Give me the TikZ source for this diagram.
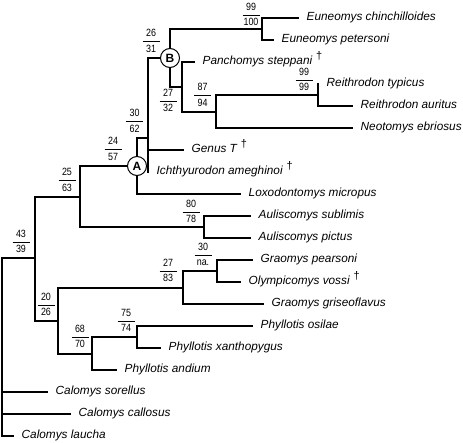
\documentclass[tikz,border=0pt]{standalone}
\usepackage{fontspec}
\setmainfont{Liberation Sans}
\newfontfamily\numfont[FakeStretch=0.85]{Liberation Sans}
\usetikzlibrary{calc}
\tikzset{
  branch/.style={line width=2pt,line cap=rect},
  taxon/.style={anchor=west,inner xsep=8.5pt,inner ysep=0pt,text height=8pt,text depth=2.5pt,
    font=\fontsize{11.8}{13}\selectfont\itshape},
  bnum/.style={anchor=base,inner sep=0pt,font=\fontsize{10.5}{11}\numfont},
  bbar/.style={line width=0.8pt},
  cnode/.style={circle,draw,line width=1pt,fill=white,minimum size=19pt,inner sep=0pt,
    font=\fontsize{12}{12}\selectfont\bfseries},
}
% support values: upper / lower, bar placed relative to the node
\newcommand{\bsup}[4][-13.5,-16.5]{%
  \coordinate (#2s) at ($(#2)+(#1)$);
  \draw[bbar] ($(#2s)+(-8.5,0)$) -- ($(#2s)+(8.5,0)$);
  \node[bnum] (#2t) at ($(#2s)+(0,-5)$) {#3};
  \node[bnum] (#2b) at ($(#2s)+(0,10.5)$) {#4};}
\newcommand{\ext}{\hspace{4pt}\raisebox{0.45em}{\upshape\fontsize{11}{11}\selectfont\textdagger}}
\begin{document}
\begin{tikzpicture}[x=1pt,y=-1pt]
  \useasboundingbox (0,0) rectangle (463,442);
  % ---- internal nodes ----
  \coordinate (n0) at (2,258);
  \coordinate (n43) at (35,258);
  \coordinate (n25) at (80,197);
  \coordinate (jA) at (137,166);
  \coordinate (n30) at (148,138);
  \coordinate (jB) at (170,58);
  \coordinate (nEu) at (262,29);
  \coordinate (n27) at (182,87);
  \coordinate (n87) at (216,112);
  \coordinate (n99) at (318,95);
  \coordinate (nAu) at (204,227);
  \coordinate (n20) at (58,321);
  \coordinate (n27g) at (183,288);
  \coordinate (n30g) at (217,271);
  \coordinate (n68) at (92,354);
  \coordinate (n75) at (137,337);
  % ---- taxa ----
  \node[taxon] (t0) at (298,18) {Euneomys chinchilloides};
  \node[taxon] (t1) at (273,40) {Euneomys petersoni};
  \node[taxon] (t2) at (194,62) {Panchomys steppani\ext};
  \node[taxon] (t3) at (318,84) {Reithrodon typicus};
  \node[taxon] (t4) at (352,106) {Reithrodon auritus};
  \node[taxon] (t5) at (352,128) {Neotomys ebriosus};
  \node[taxon] (t6) at (183,150) {Genus T\ext};
  \node[taxon] (t7) at (148,172) {Ichthyurodon ameghinoi\ext};
  \node[taxon] (t8) at (240,194) {Loxodontomys micropus};
  \node[taxon] (t9) at (250,216) {Auliscomys sublimis};
  \node[taxon] (t10) at (250,238) {Auliscomys pictus};
  \node[taxon] (t11) at (252,260) {Graomys pearsoni};
  \node[taxon] (t12) at (240,282) {Olympicomys vossi\ext};
  \node[taxon] (t13) at (263,304) {Graomys griseoflavus};
  \node[taxon] (t14) at (252,326) {Phyllotis osilae};
  \node[taxon] (t15) at (160,348) {Phyllotis xanthopygus};
  \node[taxon] (t16) at (116,370) {Phyllotis andium};
  \node[taxon] (t17) at (47,392) {Calomys sorellus};
  \node[taxon] (t18) at (70,414) {Calomys callosus};
  \node[taxon] (t19) at (13,436) {Calomys laucha};
  % ---- branches ----
  \draw[branch] (n0) -- (n43);
  \draw[branch] (n0) |- (t17.west);
  \draw[branch] (n0) |- (t18.west);
  \draw[branch] (n0) |- (t19.west);
  \draw[branch] (n43) |- (n25);
  \draw[branch] (n43) |- (n20);
  \draw[branch] (n25) |- (jA);
  \draw[branch] (n25) |- (nAu);
  \draw[branch] (jA) |- (n30);
  \draw[branch] (jA) |- (t8.west);
  \draw[branch] (n30) |- (jB);
  \draw[branch] (n30) |- (t6.west);
  \draw[branch] (n30) |- (t7.west);
  \draw[branch] (jB) |- (nEu);
  \draw[branch] (jB) |- (n27);
  \draw[branch] (nEu) |- (t0.west);
  \draw[branch] (nEu) |- (t1.west);
  \draw[branch] (n27) |- (t2.west);
  \draw[branch] (n27) |- (n87);
  \draw[branch] (n87) |- (n99);
  \draw[branch] (n87) |- (t5.west);
  \draw[branch] (n99) |- (t3.west);
  \draw[branch] (n99) |- (t4.west);
  \draw[branch] (nAu) |- (t9.west);
  \draw[branch] (nAu) |- (t10.west);
  \draw[branch] (n20) |- (n27g);
  \draw[branch] (n20) |- (n68);
  \draw[branch] (n27g) |- (n30g);
  \draw[branch] (n27g) |- (t13.west);
  \draw[branch] (n30g) |- (t11.west);
  \draw[branch] (n30g) |- (t12.west);
  \draw[branch] (n68) |- (n75);
  \draw[branch] (n68) |- (t16.west);
  \draw[branch] (n75) |- (t14.west);
  \draw[branch] (n75) |- (t15.west);
  % ---- labelled nodes ----
  \node[cnode] (cA) at (jA) {A};
  \node[cnode] (cB) at (jB) {B};
  % ---- support values ----
  \bsup[-14,-16]{n43}{43}{39}
  \bsup[-13,-16.5]{n25}{25}{63}
  \bsup[-24,-16.5]{jA}{24}{57}
  \bsup{n30}{30}{62}
  \bsup[-19,-16.5]{jB}{26}{31}
  \bsup[-11,-14]{nEu}{99}{100}
  \bsup[-14,14]{n27}{27}{32}
  \bsup{n87}{87}{94}
  \bsup[-14,-15]{n99}{99}{99}
  \bsup[-13,-15]{nAu}{80}{78}
  \bsup[-12,-16]{n20}{20}{26}
  \bsup[-15,-17]{n27g}{27}{83}
  \bsup[-14,-16]{n30g}{30}{na.}
  \bsup[-12,-17]{n68}{68}{70}
  \bsup[-11,-16]{n75}{75}{74}
\end{tikzpicture}
\end{document}
